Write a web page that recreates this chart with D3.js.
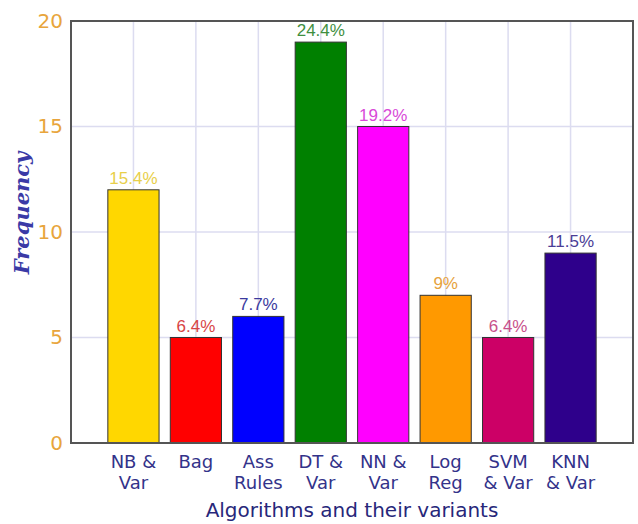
<!DOCTYPE html>
<html>
<head>
<meta charset="utf-8">
<script src="https://cdn.jsdelivr.net/npm/d3@7"></script>
<style>
  body { margin: 0; background: #fff; }
  svg { display: block; }
</style>
</head>
<body>
<div id="chart"></div>
<script>
// chart data
var categories = [["NB &", "Var"], ["Bag"], ["Ass", "Rules"], ["DT &", "Var"], ["NN &", "Var"], ["Log", "Reg"], ["SVM", "& Var"], ["KNN", "& Var"]];
var values = [12, 5, 6, 19, 15, 7, 5, 9];
var pctLabels = ["15.4%", "6.4%", "7.7%", "24.4%", "19.2%", "9%", "6.4%", "11.5%"];
var barColors = ["#ffd700", "#ff0000", "#0000ff", "#008000", "#ff00ff", "#ff9900", "#cc0066", "#2e008b"];
var labelColors = ["#e8cf4a", "#d84545", "#3a3a9e", "#3f8f3f", "#d84ad8", "#e6a23c", "#c8508a", "#4a3d96"];
var yTicks = [0, 5, 10, 15, 20];

var width = 638, height = 524;
var margin = {top: 21, right: 5, bottom: 81, left: 71};

var svg = d3.select("#chart").append("svg")
    .attr("width", width)
    .attr("height", height);

var x = d3.scaleLinear()
    .domain([0, categories.length + 1])
    .range([margin.left, width - margin.right]);

var y = d3.scaleLinear()
    .domain([0, 20])
    .range([height - margin.bottom, margin.top]);

var step = x(1) - x(0);
var barW = step * 0.82;

// grid
var grid = svg.append("g");
grid.selectAll(".vg")
    .data(d3.range(1, categories.length + 1))
    .enter().append("line")
    .attr("x1", function (d) { return x(d); })
    .attr("x2", function (d) { return x(d); })
    .attr("y1", y(0))
    .attr("y2", y(20))
    .attr("stroke", "#dcdcf0")
    .attr("stroke-width", 1.5);

grid.selectAll(".hg")
    .data(yTicks.slice(1, -1))
    .enter().append("line")
    .attr("x1", x(0))
    .attr("x2", x(categories.length + 1))
    .attr("y1", function (d) { return y(d); })
    .attr("y2", function (d) { return y(d); })
    .attr("stroke", "#dcdcf0")
    .attr("stroke-width", 1.5);

// bars
svg.selectAll(".bar")
    .data(values)
    .enter().append("rect")
    .attr("class", "bar")
    .attr("x", function (d, i) { return x(i + 1) - barW / 2; })
    .attr("y", function (d) { return y(d); })
    .attr("width", barW)
    .attr("height", function (d) { return y(0) - y(d); })
    .attr("fill", function (d, i) { return barColors[i]; })
    .attr("stroke", "#333")
    .attr("stroke-width", 1);

// value labels
svg.selectAll(".vlab")
    .data(values)
    .enter().append("text")
    .attr("x", function (d, i) { return x(i + 1); })
    .attr("y", function (d) { return y(d) - 6; })
    .attr("text-anchor", "middle")
    .attr("font-family", "Liberation Sans, Arial, sans-serif")
    .attr("font-size", 17)
    .attr("fill", function (d, i) { return labelColors[i]; })
    .text(function (d, i) { return pctLabels[i]; });

// frame
svg.append("rect")
    .attr("x", x(0))
    .attr("y", y(20))
    .attr("width", x(categories.length + 1) - x(0))
    .attr("height", y(0) - y(20))
    .attr("fill", "none")
    .attr("stroke", "#555")
    .attr("stroke-width", 2);

// y axis
var yAxis = d3.axisLeft(y).tickValues(yTicks).tickSize(0).tickPadding(8);
var gy = svg.append("g")
    .attr("transform", "translate(" + x(0) + ",0)")
    .call(yAxis);
gy.select(".domain").remove();
gy.selectAll("text")
    .attr("font-family", "DejaVu Sans, sans-serif")
    .attr("font-size", 20)
    .attr("fill", "#e8a53c");

// x axis labels (two lines)
var gx = svg.append("g");
gx.selectAll(".xl")
    .data(categories)
    .enter().append("text")
    .attr("text-anchor", "middle")
    .attr("font-family", "DejaVu Sans, sans-serif")
    .attr("font-size", 18)
    .attr("fill", "#33338a")
    .each(function (d, i) {
        var t = d3.select(this);
        d.forEach(function (line, j) {
            t.append("tspan")
                .attr("x", x(i + 1))
                .attr("y", y(0) + 25 + j * 21)
                .text(line);
        });
    });

// axis titles
svg.append("text")
    .attr("x", (x(0) + x(categories.length + 1)) / 2)
    .attr("y", 517)
    .attr("text-anchor", "middle")
    .attr("font-family", "DejaVu Sans, sans-serif")
    .attr("font-size", 20)
    .attr("fill", "#27277a")
    .text("Algorithms and their variants");

svg.append("text")
    .attr("transform", "translate(29,213) rotate(-90)")
    .attr("text-anchor", "middle")
    .attr("font-family", "DejaVu Serif, serif")
    .attr("font-style", "italic")
    .attr("font-weight", "bold")
    .attr("font-size", 21)
    .attr("fill", "#3a3aa6")
    .text("Frequency");
</script>
</body>
</html>
